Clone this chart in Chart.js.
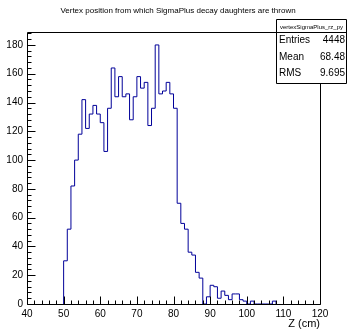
<!DOCTYPE html>
<html><head><meta charset="utf-8">
<script src="https://cdn.jsdelivr.net/npm/chart.js@4/dist/chart.umd.min.js"></script>
<style>html,body{margin:0;padding:0;background:#fff;overflow:hidden}</style>
</head><body>
<canvas id="c" width="348" height="329" style="display:block;width:348px;height:329px"></canvas>
<script>
// ---- data ----
const chartTitle = "Vertex position from which SigmaPlus decay daughters are thrown";
const histName = "vertexSigmaPlus_rz_py";
const statLabels = ["Entries", "Mean", "RMS"];
const statValues = ["4448", "68.48", "9.695"];
const xTitle = "Z (cm)";
const binLow = 50;      // low edge of first bin (cm)
const binWidth = 1;     // cm
const counts = [30,52,82,100,118,142,122,132,138,132,
                126,106,136,164,144,158,144,146,128,144,
                158,150,154,124,136,180,146,148,154,146,
                136,70,56,52,36,34,22,18,0,5,
                13,12,4,9,6,3,7,7,3,2,
                0,2,0,0,0,0,0,2];
const xRange = [40, 120];
const yRange = [0, 189];

// build step outline points from bin edges
const pts = [{x: binLow, y: 0}];
counts.forEach((v, i) => pts.push({x: binLow + i * binWidth, y: v}));
pts.push({x: binLow + counts.length * binWidth, y: 0});

const FONT = "'Liberation Sans', Arial, Helvetica, sans-serif";

const rootPlugin = {
  id: 'rootFrame',
  afterDraw(chart) {
    const ctx = chart.ctx, a = chart.chartArea;
    const xs = chart.scales.x, ys = chart.scales.y;
    const L = Math.round(a.left) + 0.5, R = Math.round(a.right) + 0.5;
    const T = Math.round(a.top) + 0.5, B = Math.round(a.bottom) + 0.5;
    ctx.save();
    ctx.strokeStyle = '#000';
    ctx.lineWidth = 1;
    // frame
    ctx.beginPath();
    ctx.rect(L, T, R - L, B - T);
    ctx.stroke();
    // x ticks (inward)
    ctx.beginPath();
    for (let v = xRange[0]; v <= xRange[1]; v += 2) {
      const px = Math.round(xs.getPixelForValue(v)) + 0.5;
      const len = (v % 10 === 0) ? 8 : 4;
      ctx.moveTo(px, B); ctx.lineTo(px, B - len);
    }
    // y ticks (inward)
    for (let v = yRange[0]; v <= yRange[1]; v += 4) {
      const py = Math.round(ys.getPixelForValue(v)) + 0.5;
      const len = (v % 20 === 0) ? 8 : 4;
      ctx.moveTo(L, py); ctx.lineTo(L + len, py);
    }
    ctx.stroke();

    // title
    ctx.fillStyle = '#000';
    ctx.font = '8px ' + FONT;
    ctx.textAlign = 'center';
    ctx.textBaseline = 'middle';
    ctx.fillText(chartTitle, 178, 10.5);

    // stats box
    const bx0 = 276.5, bx1 = 346.5, by0 = 19.5, by1 = 83.5, sep = 32.5;
    ctx.fillStyle = '#fff';
    ctx.fillRect(bx0, by0, bx1 - bx0, by1 - by0);
    ctx.beginPath();
    ctx.rect(bx0, by0, bx1 - bx0, by1 - by0);
    ctx.moveTo(bx0, sep); ctx.lineTo(bx1, sep);
    ctx.stroke();
    ctx.fillStyle = '#000';
    ctx.font = '6px ' + FONT;
    ctx.textAlign = 'center';
    ctx.fillText(histName, (bx0 + bx1) / 2, 27);
    ctx.font = '10px ' + FONT;
    const rowsY = [40.5, 57, 73.5];
    statLabels.forEach((lab, i) => {
      ctx.textAlign = 'left';
      ctx.fillText(lab, 279, rowsY[i]);
      ctx.textAlign = 'right';
      ctx.fillText(statValues[i], 345, rowsY[i]);
    });
    ctx.restore();
  }
};

new Chart(document.getElementById('c'), {
  type: 'line',
  data: {
    datasets: [{
      data: pts,
      stepped: 'before',
      borderColor: '#000099',
      borderWidth: 1,
      pointRadius: 0,
      fill: false,
      tension: 0
    }]
  },
  options: {
    responsive: false,
    animation: false,
    devicePixelRatio: 1,
    layout: {padding: {top: 32, right: 28, left: 0, bottom: 0}},
    plugins: {legend: {display: false}, tooltip: {enabled: false}, title: {display: false}},
    scales: {
      x: {
        type: 'linear', min: xRange[0], max: xRange[1],
        grid: {display: false, drawTicks: false},
        border: {display: false},
        ticks: {stepSize: 10, maxRotation: 0, autoSkip: false, padding: 4, color: '#000',
                font: {family: FONT, size: 10}},
        title: {display: true, text: xTitle, align: 'end', color: '#000',
                font: {family: FONT, size: 11, lineHeight: 1}, padding: 0},
        afterFit(s) { s.height = 25; s.paddingLeft = 0; s.paddingRight = 0; }
      },
      y: {
        type: 'linear', min: yRange[0], max: yRange[1],
        grid: {display: false, drawTicks: false},
        border: {display: false},
        ticks: {stepSize: 20, includeBounds: false, padding: 4, color: '#000',
                font: {family: FONT, size: 10}},
        afterFit(s) { s.width = 27; s.paddingTop = 0; s.paddingBottom = 0; }
      }
    }
  },
  plugins: [rootPlugin]
});
</script>
</body></html>
